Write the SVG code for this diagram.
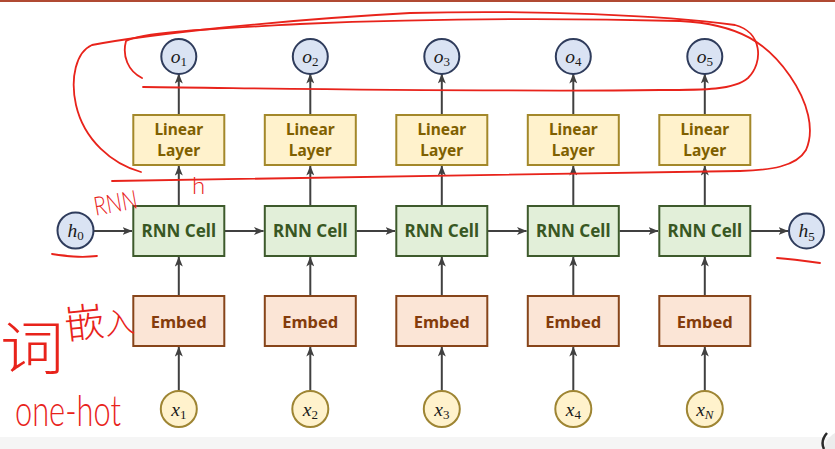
<svg xmlns="http://www.w3.org/2000/svg" width="835" height="449" viewBox="0 0 835 449">
  <style>
    .lbl { font-family: "Noto Sans", "Open Sans", "Liberation Sans", sans-serif; font-weight: bold; text-anchor: middle; }
    .lin rect { fill: #fff2cc; stroke: #a3882a; stroke-width: 2; }
    .lin text { fill: #7f6000; font-size: 15.5px; }
    .rnn rect { fill: #e2efd9; stroke: #3e5a2c; stroke-width: 2; }
    .rnn text { fill: #385723; font-size: 17px; }
    .emb rect { fill: #fbe5d6; stroke: #87451a; stroke-width: 2; }
    .emb text { fill: #843c0c; font-size: 16.5px; }
    .hid circle, .out circle { fill: #dae3f3; stroke: #2f3c5c; stroke-width: 2; }
    .inp circle { fill: #fff2cc; stroke: #9e8533; stroke-width: 2; }
    .math { font-family: "Liberation Serif", "DejaVu Serif", serif; font-style: italic; font-size: 19.5px; fill: #1a1a1a; text-anchor: middle; }
    .sub { font-size: 13px; font-style: normal; }
    .subi { font-size: 13px; }
    #connectors line { stroke: #404040; stroke-width: 2; marker-end: url(#arr); }
    .ink { fill: none; stroke: #e8231b; stroke-width: 1.8; stroke-linecap: round; stroke-linejoin: round; }
    .hand { fill: #e8231b; font-weight: 300; }
  </style>
  <defs>
    <marker id="arr" viewBox="0 0 10 8" refX="9.5" refY="4" markerWidth="10" markerHeight="8" markerUnits="userSpaceOnUse" orient="auto">
      <path d="M0,0 L10,4 L0,8 L2.5,4 z" fill="#404040"/>
    </marker>
  </defs>

  <rect width="835" height="449" fill="#ffffff"/>
  <rect x="0" y="0" width="835" height="2" fill="#b04a32"/>
  <rect x="0" y="437" width="835" height="12" fill="#f5f5f5"/>
  <circle cx="846" cy="452" r="22" fill="#ececec"/>
  <path d="M827,433 Q820,441 824,449" fill="none" stroke="#2a2a2a" stroke-width="2.5"/>

  <!-- connectors -->
  <g id="connectors">
    <!-- x -> Embed -->
    <line x1="178.8" y1="391" x2="178.8" y2="347"/>
    <line x1="310.3" y1="391" x2="310.3" y2="347"/>
    <line x1="441.8" y1="391" x2="441.8" y2="347"/>
    <line x1="573.3" y1="391" x2="573.3" y2="347"/>
    <line x1="704.8" y1="391" x2="704.8" y2="347"/>
    <!-- Embed -> RNN Cell -->
    <line x1="178.8" y1="296" x2="178.8" y2="257"/>
    <line x1="310.3" y1="296" x2="310.3" y2="257"/>
    <line x1="441.8" y1="296" x2="441.8" y2="257"/>
    <line x1="573.3" y1="296" x2="573.3" y2="257"/>
    <line x1="704.8" y1="296" x2="704.8" y2="257"/>
    <!-- RNN Cell -> Linear Layer -->
    <line x1="178.8" y1="206" x2="178.8" y2="166"/>
    <line x1="310.3" y1="206" x2="310.3" y2="166"/>
    <line x1="441.8" y1="206" x2="441.8" y2="166"/>
    <line x1="573.3" y1="206" x2="573.3" y2="166"/>
    <line x1="704.8" y1="206" x2="704.8" y2="166"/>
    <!-- Linear Layer -> o -->
    <line x1="178.8" y1="115" x2="178.8" y2="74"/>
    <line x1="310.3" y1="115" x2="310.3" y2="74"/>
    <line x1="441.8" y1="115" x2="441.8" y2="74"/>
    <line x1="573.3" y1="115" x2="573.3" y2="74"/>
    <line x1="704.8" y1="115" x2="704.8" y2="74"/>
    <!-- hidden state chain -->
    <line x1="94" y1="231" x2="132" y2="231"/>
    <line x1="225" y1="231" x2="263.5" y2="231"/>
    <line x1="356.5" y1="231" x2="395" y2="231"/>
    <line x1="488" y1="231" x2="526.5" y2="231"/>
    <line x1="619.5" y1="231" x2="658" y2="231"/>
    <line x1="751" y1="231" x2="788" y2="231"/>
  </g>

  <!-- outputs -->
  <g id="o1" class="out"><circle cx="178.8" cy="56.5" r="17.5"/><text class="math" x="178.8" y="62.5">o<tspan class="sub" dy="3.5">1</tspan></text></g>
  <g id="o2" class="out"><circle cx="310.3" cy="56.5" r="17.5"/><text class="math" x="310.3" y="62.5">o<tspan class="sub" dy="3.5">2</tspan></text></g>
  <g id="o3" class="out"><circle cx="441.8" cy="56.5" r="17.5"/><text class="math" x="441.8" y="62.5">o<tspan class="sub" dy="3.5">3</tspan></text></g>
  <g id="o4" class="out"><circle cx="573.3" cy="56.5" r="17.5"/><text class="math" x="573.3" y="62.5">o<tspan class="sub" dy="3.5">4</tspan></text></g>
  <g id="o5" class="out"><circle cx="704.8" cy="56.5" r="17.5"/><text class="math" x="704.8" y="62.5">o<tspan class="sub" dy="3.5">5</tspan></text></g>

  <!-- linear layers -->
  <g id="lin1" class="lin"><rect x="133.3" y="115" width="91" height="50"/><text class="lbl" x="178.8" y="135">Linear</text><text class="lbl" x="178.8" y="156.3">Layer</text></g>
  <g id="lin2" class="lin"><rect x="264.8" y="115" width="91" height="50"/><text class="lbl" x="310.3" y="135">Linear</text><text class="lbl" x="310.3" y="156.3">Layer</text></g>
  <g id="lin3" class="lin"><rect x="396.3" y="115" width="91" height="50"/><text class="lbl" x="441.8" y="135">Linear</text><text class="lbl" x="441.8" y="156.3">Layer</text></g>
  <g id="lin4" class="lin"><rect x="527.8" y="115" width="91" height="50"/><text class="lbl" x="573.3" y="135">Linear</text><text class="lbl" x="573.3" y="156.3">Layer</text></g>
  <g id="lin5" class="lin"><rect x="659.3" y="115" width="91" height="50"/><text class="lbl" x="704.8" y="135">Linear</text><text class="lbl" x="704.8" y="156.3">Layer</text></g>

  <!-- hidden states -->
  <g id="h0" class="hid"><circle cx="75.5" cy="230.5" r="18"/><text class="math" x="75.5" y="236.5">h<tspan class="sub" dy="3.5">0</tspan></text></g>
  <g id="h5" class="hid"><circle cx="806.5" cy="231" r="17.5"/><text class="math" x="806.5" y="237">h<tspan class="sub" dy="3.5">5</tspan></text></g>

  <!-- RNN cells -->
  <g id="rnn1" class="rnn"><rect x="133.3" y="206" width="91" height="50"/><text class="lbl" x="178.8" y="237">RNN Cell</text></g>
  <g id="rnn2" class="rnn"><rect x="264.8" y="206" width="91" height="50"/><text class="lbl" x="310.3" y="237">RNN Cell</text></g>
  <g id="rnn3" class="rnn"><rect x="396.3" y="206" width="91" height="50"/><text class="lbl" x="441.8" y="237">RNN Cell</text></g>
  <g id="rnn4" class="rnn"><rect x="527.8" y="206" width="91" height="50"/><text class="lbl" x="573.3" y="237">RNN Cell</text></g>
  <g id="rnn5" class="rnn"><rect x="659.3" y="206" width="91" height="50"/><text class="lbl" x="704.8" y="237">RNN Cell</text></g>

  <!-- embeddings -->
  <g id="emb1" class="emb"><rect x="133.3" y="296" width="91" height="50"/><text class="lbl" x="178.8" y="327.5">Embed</text></g>
  <g id="emb2" class="emb"><rect x="264.8" y="296" width="91" height="50"/><text class="lbl" x="310.3" y="327.5">Embed</text></g>
  <g id="emb3" class="emb"><rect x="396.3" y="296" width="91" height="50"/><text class="lbl" x="441.8" y="327.5">Embed</text></g>
  <g id="emb4" class="emb"><rect x="527.8" y="296" width="91" height="50"/><text class="lbl" x="573.3" y="327.5">Embed</text></g>
  <g id="emb5" class="emb"><rect x="659.3" y="296" width="91" height="50"/><text class="lbl" x="704.8" y="327.5">Embed</text></g>

  <!-- inputs -->
  <g id="x1" class="inp"><circle cx="178.8" cy="409" r="18"/><text class="math" x="178.8" y="415.5">x<tspan class="sub" dy="3">1</tspan></text></g>
  <g id="x2" class="inp"><circle cx="310.3" cy="409" r="18"/><text class="math" x="310.3" y="415.5">x<tspan class="sub" dy="3">2</tspan></text></g>
  <g id="x3" class="inp"><circle cx="441.8" cy="409" r="18"/><text class="math" x="441.8" y="415.5">x<tspan class="sub" dy="3">3</tspan></text></g>
  <g id="x4" class="inp"><circle cx="573.3" cy="409" r="18"/><text class="math" x="573.3" y="415.5">x<tspan class="sub" dy="3">4</tspan></text></g>
  <g id="xN" class="inp"><circle cx="704.8" cy="409" r="18"/><text class="math" x="704.8" y="415.5">x<tspan class="subi" dy="3">N</tspan></text></g>

  <!-- red pen notes -->
  <g id="notes">
    <path class="ink" d="M141,172 C112,164 84,140 76,105 C70,78 76,52 92,45 C150,34 280,20 410,13 C540,10 660,15 735,25 C762,32 764,62 748,78 C734,90 705,90 660,90 C500,92 320,89 143,87"/>
    <path class="ink" d="M142,78 C128,71 122,56 126,41 C142,32 210,29 300,24 C420,19 560,18 680,21 C740,24 768,44 790,76 C808,102 815,130 806,150 C796,167 770,170 740,171 C560,172 360,177 112,181"/>
    <path class="ink" d="M52,254 C66,256 80,258 97,256"/>
    <path class="ink" d="M777,258 C792,259 806,261 820,263"/>
    <text class="hand" x="93" y="212" font-family="Lato, Liberation Sans, sans-serif" font-size="26" textLength="44" lengthAdjust="spacingAndGlyphs" transform="rotate(-10 115 200)">RNN</text>
    <text class="hand" x="192" y="194" font-family="Lato, Liberation Sans, sans-serif" font-size="24">h</text>
    <text class="hand" x="0" y="369" font-family="Noto Sans CJK SC, sans-serif" font-size="58" textLength="64" lengthAdjust="spacingAndGlyphs">词</text>
    <text class="hand" x="64" y="336" font-family="Noto Sans CJK SC, sans-serif" font-size="40" transform="rotate(-6 95 318)">嵌<tspan font-size="30">入</tspan></text>
    <text class="hand" x="0" y="0" font-family="Lato, Liberation Sans, sans-serif" font-size="44" transform="translate(15 426) scale(0.7 1)">one-hot</text>
  </g>
</svg>
